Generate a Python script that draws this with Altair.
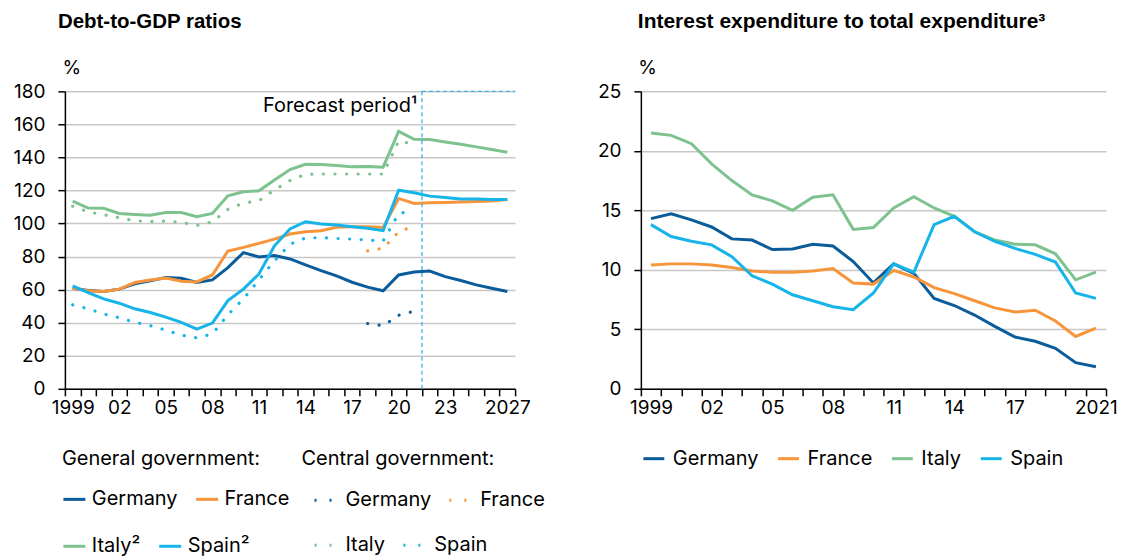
import altair as alt
import pandas as pd

FONT = "Inter"
TFONT = "Liberation Sans"

# ---------------- data ----------------
years_debt = list(range(1999, 2028))
years_int = list(range(1999, 2022))

countries_gg = ["Germany", "France", "Italy²", "Spain²"]
countries_cg = ["Germany", "France", "Italy", "Spain"]
countries_int = ["Germany", "France", "Italy", "Spain"]
colors = ["#0B5C9A", "#F7953B", "#7DC28F", "#16B4E9"]

# General government debt-to-GDP (1999-2027)
gg_germany = [60.9, 59.5, 58.9, 60.3, 63.5, 65.3, 67.3, 66.9, 64.3, 65.9, 73.3, 82.4, 79.8,
              80.7, 78.6, 75.0, 71.5, 68.3, 64.5, 61.5, 59.3, 68.9, 70.7, 71.3, 67.9, 65.5,
              62.9, 60.9, 58.9]
gg_france = [60.9, 59.3, 58.9, 60.3, 64.3, 65.9, 67.1, 65.1, 64.7, 68.9, 83.4, 85.6, 88.0,
             90.6, 93.7, 95.1, 95.7, 97.7, 98.1, 98.1, 97.6, 115.2, 112.2, 112.6, 112.8,
             113.0, 113.3, 113.6, 114.6]
gg_italy = [113.6, 109.4, 109.2, 106.1, 105.5, 105.1, 106.7, 106.7, 104.1, 106.1, 116.8,
            119.2, 119.8, 126.3, 132.7, 135.9, 135.7, 135.1, 134.3, 134.5, 134.1, 155.8,
            151.0, 150.8, 149.4, 148.0, 146.4, 144.8, 143.2]
gg_spain = [62.3, 58.2, 54.4, 51.8, 48.4, 46.2, 43.4, 40.2, 36.1, 39.8, 53.4, 60.3, 69.5,
            86.5, 96.7, 101.1, 99.7, 99.1, 98.1, 97.1, 95.7, 120.2, 118.6, 116.6, 115.8,
            114.8, 114.8, 114.6, 114.6]

# Central government debt-to-GDP (1999-2021, None = not shown)
cg_germany = [None] * 19 + [39.5, 38.2, 44.5, 47.0]
cg_france = [None] * 19 + [83.5, 85.0, 95.0, 98.5]
cg_italy = [110.5, 107.0, 105.4, 103.5, 101.7, 101.3, 101.5, 100.7, 98.9, 101.0, 108.5,
            112.4, 113.8, 120.4, 126.0, 129.8, 130.0, 130.0, 130.0, 130.0, 130.0, 150.0,
            148.0]
cg_spain = [50.8, 48.4, 45.3, 43.0, 40.3, 38.2, 35.5, 32.5, 30.8, 33.2, 44.8, 54.4, 66.0,
            77.4, 87.5, 91.3, 91.5, 91.0, 90.6, 90.0, 89.5, 106.0, 108.0]

# Interest expenditure to total expenditure (1999-2021)
int_germany = [14.3, 14.7, 14.2, 13.6, 12.6, 12.5, 11.7, 11.75, 12.15, 12.0, 10.7, 8.9, 10.5,
               9.7, 7.6, 7.0, 6.2, 5.25, 4.35, 4.0, 3.4, 2.2, 1.85]
int_france = [10.4, 10.5, 10.5, 10.4, 10.2, 9.9, 9.8, 9.8, 9.9, 10.1, 8.9, 8.8, 9.95, 9.4,
              8.5, 8.0, 7.4, 6.8, 6.45, 6.6, 5.7, 4.4, 5.1]
int_italy = [21.5, 21.3, 20.6, 18.9, 17.5, 16.3, 15.8, 15.0, 16.1, 16.3, 13.4, 13.55, 15.2,
             16.15, 15.2, 14.5, 13.2, 12.5, 12.15, 12.1, 11.35, 9.16, 9.8]
int_spain = [13.8, 12.8, 12.4, 12.1, 11.1, 9.5, 8.8, 7.9, 7.4, 6.9, 6.65, 8.05, 10.5, 9.8,
             13.8, 14.5, 13.2, 12.4, 11.8, 11.3, 10.65, 8.05, 7.6]

x_labels_debt = {1999: "1999", 2002: "02", 2005: "05", 2008: "08", 2011: "11", 2014: "14",
                 2017: "17", 2020: "20", 2023: "23", 2027: "2027"}
x_labels_int = {1999: "1999", 2002: "02", 2005: "05", 2008: "08", 2011: "11", 2014: "14",
                2017: "17", 2021: "2021"}

forecast_start = [2022]
forecast_end = [2027]
forecast_text = ["Forecast period¹"]


def long_df(years, names, series):
    rows = []
    for name, vals in zip(names, series):
        for y, v in zip(years, vals):
            if v is not None:
                rows.append({"year": y, "country": name, "value": v})
    return pd.DataFrame(rows)


def label_expr(mapping):
    expr = "''"
    for k in sorted(mapping, reverse=True):
        expr = f"datum.value == {k} ? '{mapping[k]}' : ({expr})"
    return expr


df_gg_a = long_df(years_debt, countries_gg[:2], [gg_germany, gg_france])
df_gg_b = long_df(years_debt, countries_gg[2:], [gg_italy, gg_spain])
df_cg_a = long_df(years_int, countries_cg[:2], [cg_germany, cg_france])
df_cg_b = long_df(years_int, countries_cg[2:], [cg_italy, cg_spain])
df_int = long_df(years_int, countries_int, [int_germany, int_france, int_italy, int_spain])
df_fc = pd.DataFrame({"year": forecast_start, "end": forecast_end, "value": [180],
                      "label": forecast_text})

TITLE_KW = dict(anchor="start", frame="group", font=TFONT, fontWeight="bold",
                color="black", offset=26)


def x_axis(mapping):
    return alt.Axis(title=None, tickBand="extent", labelExpr=label_expr(mapping), labelAngle=0,
                    labelOverlap=False, grid=False, labelPadding=3)


def y_axis(vals):
    return alt.Axis(values=vals, title="%", titleAngle=0, titleAlign="left",
                    titleBaseline="alphabetic", titleX=-3, titleY=-18, titleFontSize=19,
                    titleFontWeight="normal", titleFont=FONT, titleColor="black",
                    labelPadding=13, labelOverlap=False, grid=True)


def x_enc(years, mapping, band=0.5):
    return alt.X("year:O", bandPosition=band,
                 scale=alt.Scale(type="band", domain=years, paddingInner=0, paddingOuter=0),
                 axis=x_axis(mapping))


GG_LEG = dict(orient="none", legendX=-3, direction="horizontal", symbolType="stroke",
              symbolSize=484, symbolStrokeWidth=3, labelOffset=5, columnPadding=12,
              titlePadding=18)
CG_LEG = dict(orient="none", legendX=237, direction="horizontal", symbolType="stroke",
              symbolSize=900, symbolStrokeWidth=3, symbolDash=[2, 13], symbolDashOffset=3.4,
              labelOffset=11, columnPadding=0, titlePadding=15)

# ---------------- left chart ----------------
y_left = alt.Y("value:Q", scale=alt.Scale(domain=[0, 180], nice=False),
               axis=y_axis(list(range(0, 181, 20))))


def gg_line(df, names, cols, legend):
    return alt.Chart(df).mark_line(strokeWidth=3).encode(
        x=x_enc(years_debt, x_labels_debt), y=y_left,
        color=alt.Color("country:N", scale=alt.Scale(domain=names, range=cols), legend=legend))


def cg_line(df, names, cols, legend):
    return alt.Chart(df).mark_line(strokeWidth=3.2, strokeCap="round",
                                   strokeDash=[0.1, 11.5]).encode(
        x=x_enc(years_debt, x_labels_debt), y=y_left,
        color=alt.Color("country:N", scale=alt.Scale(domain=names, range=cols), legend=legend))


gg_a = gg_line(df_gg_a, countries_gg[:2], colors[:2],
               alt.Legend(title="General government:", legendY=358, **GG_LEG))
gg_b = gg_line(df_gg_b, countries_gg[2:], colors[2:],
               alt.Legend(title=None, legendY=443, **GG_LEG))
cg_a = cg_line(df_cg_a, countries_cg[:2], colors[:2],
               alt.Legend(title="Central government:", legendY=358, **CG_LEG))
cg_b = cg_line(df_cg_b, countries_cg[2:], colors[2:],
               alt.Legend(title=None, legendY=438, **CG_LEG))

fc_color = "#3FB2E3"
vrule = alt.Chart(df_fc).mark_rule(color=fc_color, strokeDash=[4, 3], strokeWidth=1.3).encode(
    x=x_enc(years_debt, x_labels_debt, 0))
hrule = alt.Chart(df_fc).mark_rule(color=fc_color, strokeDash=[4, 3], strokeWidth=1.3).encode(
    x=x_enc(years_debt, x_labels_debt, 0), x2=alt.X2("end", bandPosition=1), y=y_left)
fc_text = alt.Chart(df_fc).mark_text(align="right", baseline="top", dx=-5, dy=5, fontSize=20,
                                     font=FONT, color="black").encode(
    x=x_enc(years_debt, x_labels_debt, 0), y=y_left, text="label:N")

left = alt.layer(gg_a, gg_b, cg_a, cg_b, vrule, hrule, fc_text).resolve_scale(
    color="independent").properties(
    width=451, height=298,
    title=alt.TitleParams("Debt-to-GDP ratios", dx=-7, fontSize=20.5, **TITLE_KW))

# ---------------- right chart ----------------
y_right = alt.Y("value:Q", scale=alt.Scale(domain=[0, 25], nice=False),
                axis=y_axis(list(range(0, 26, 5))))

right = alt.Chart(df_int).mark_line(strokeWidth=3).encode(
    x=x_enc(years_int, x_labels_int), y=y_right,
    color=alt.Color("country:N", scale=alt.Scale(domain=countries_int, range=colors),
                    legend=alt.Legend(title=None, orient="none", legendX=1, legendY=356,
                                      direction="horizontal", symbolType="stroke",
                                      symbolSize=441, symbolStrokeWidth=3, labelOffset=7,
                                      columnPadding=13)),
).properties(width=466, height=298,
             title=alt.TitleParams("Interest expenditure to total expenditure³", dx=-3,
                                   fontSize=21, **TITLE_KW))

chart = alt.hconcat(left, right, spacing=126, bounds="flush").resolve_scale(
    color="independent").resolve_legend(color="independent").properties(
    padding={"left": 5, "top": 3, "right": 0, "bottom": 0}
).configure_view(stroke=None).configure_axis(
    labelFont=FONT, labelFontSize=19, labelColor="black", domainColor="black", domainWidth=1.5,
    tickColor="black", tickWidth=1.5, tickSize=7, gridColor="#c8c8c8", gridWidth=1.5,
).configure_legend(
    labelFont=FONT, labelFontSize=20, labelColor="black", titleFont=FONT, titleFontSize=20,
    titleFontWeight="normal", titleColor="black", labelLimit=300, titleLimit=400,
)

chart.save("out.html", embed_options={"renderer": "svg", "actions": False})
